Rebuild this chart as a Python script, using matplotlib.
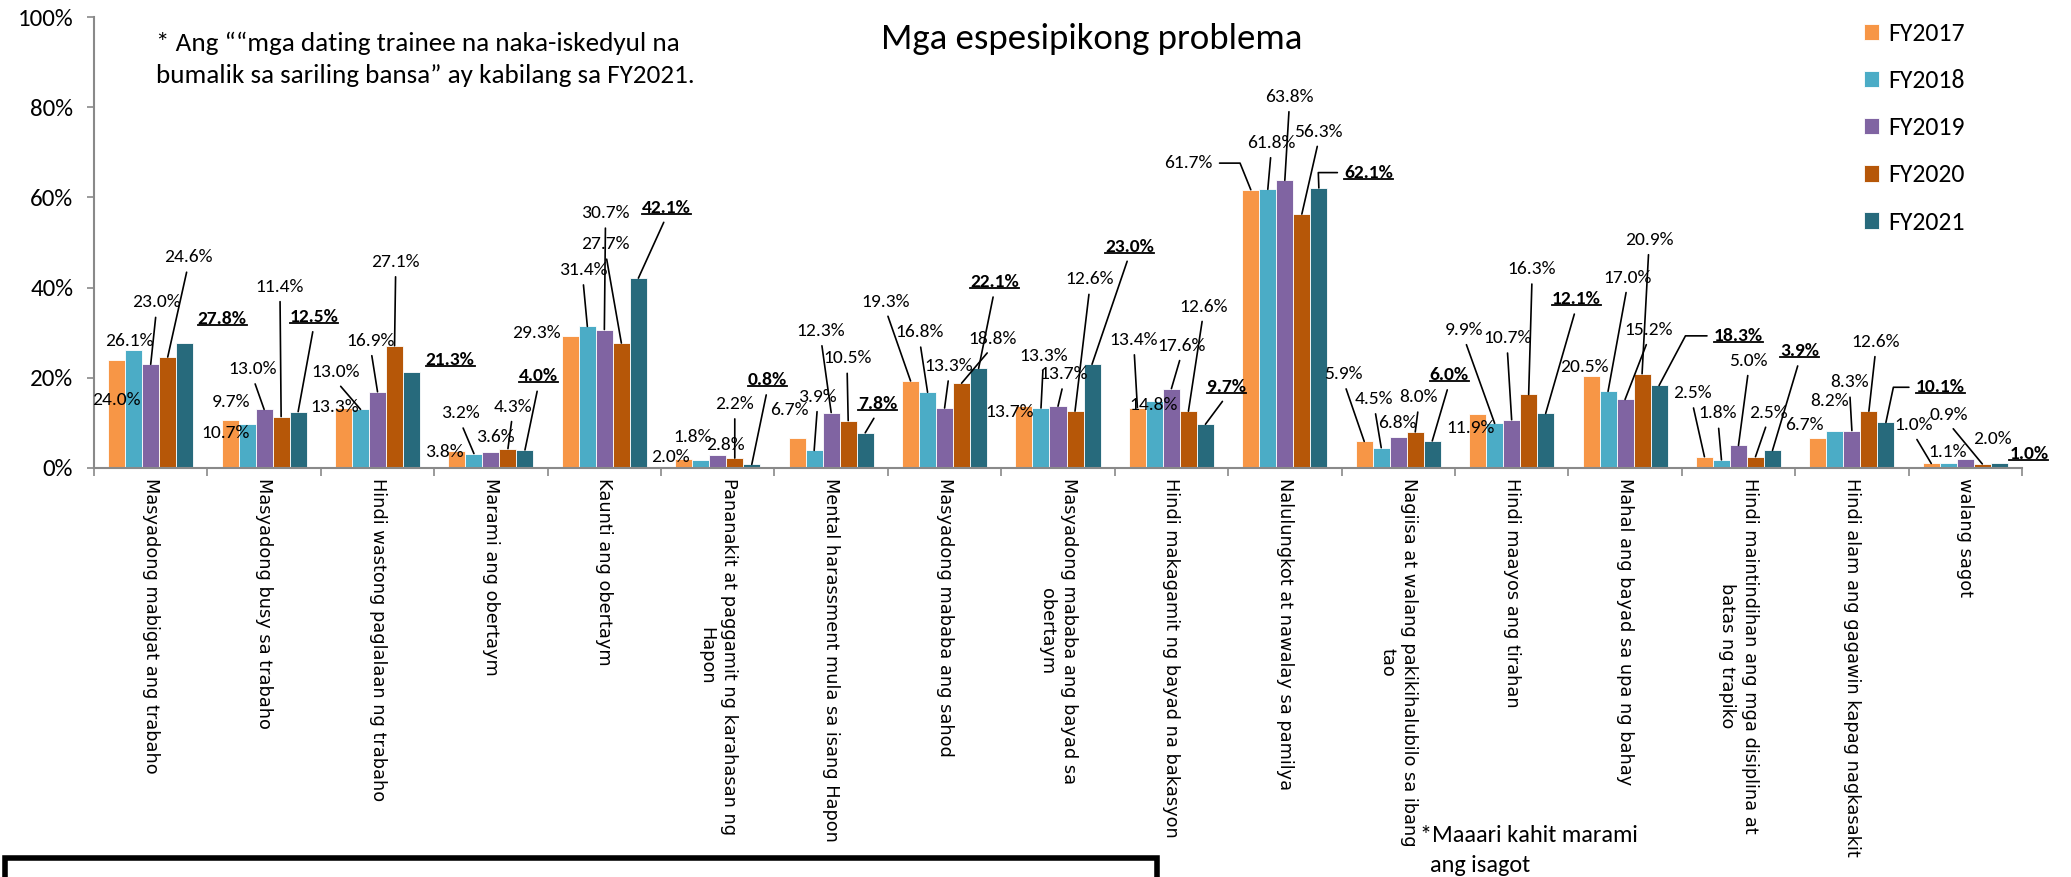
import numpy as np
import matplotlib
matplotlib.use("Agg")
import matplotlib.pyplot as plt
from matplotlib.lines import Line2D
from matplotlib.patches import Rectangle
from matplotlib.text import Text

# Calibri-like text first, plain sans as the fallback
NARROW = ['Carlito', 'Liberation Sans Narrow', 'Liberation Sans']
WIDE = 'DejaVu Sans'

# ---- data ----
categories = [
    "Masyadong mabigat ang trabaho",
    "Masyadong busy sa trabaho",
    "Hindi wastong paglalaan ng trabaho",
    "Marami ang obertaym",
    "Kaunti ang obertaym",
    "Pananakit at paggamit ng karahasan ng\nHapon",
    "Mental harassment mula sa isang Hapon",
    "Masyadong mababa ang sahod",
    "Masyadong mababa ang bayad sa\nobertaym",
    "Hindi makagamit ng bayad na bakasyon",
    "Nalulungkot at nawalay sa pamilya",
    "Nagiisa at walang pakikihalubilo sa ibang\ntao",
    "Hindi maayos ang tirahan",
    "Mahal ang bayad sa upa ng bahay",
    "Hindi maintindihan ang mga disiplina at\nbatas ng trapiko",
    "Hindi alam ang gagawin kapag nagkasakit",
    "walang sagot",
]
years = ["FY2017", "FY2018", "FY2019", "FY2020", "FY2021"]

fy2017 = [24.0, 10.7, 13.3, 3.8, 29.3, 2.0, 6.7, 19.3, 13.7, 13.4, 61.7, 5.9, 11.9, 20.5, 2.5, 6.7, 1.0]
fy2018 = [26.1, 9.7, 13.0, 3.2, 31.4, 1.8, 3.9, 16.8, 13.3, 14.8, 61.8, 4.5, 9.9, 17.0, 1.8, 8.2, 1.1]
fy2019 = [23.0, 13.0, 16.9, 3.6, 30.7, 2.8, 12.3, 13.3, 13.7, 17.6, 63.8, 6.8, 10.7, 15.2, 5.0, 8.3, 2.0]
fy2020 = [24.6, 11.4, 27.1, 4.3, 27.7, 2.2, 10.5, 18.8, 12.6, 12.6, 56.3, 8.0, 16.3, 20.9, 2.5, 12.6, 0.9]
fy2021 = [27.8, 12.5, 21.3, 4.0, 42.1, 0.8, 7.8, 22.1, 23.0, 9.7, 62.1, 6.0, 12.1, 18.3, 3.9, 10.1, 1.0]
series = [fy2017, fy2018, fy2019, fy2020, fy2021]

colors = ['#F79646', '#4BACC6', '#8064A2', '#B65708', '#276A7C']

# label placement (x in category units, y in %) and leader style:
# n = no line, b = line from bottom of text, l/r = elbow line from left/right side
label_pos = [
    [(-0.30, 15.1, 'n'), (-0.19, 28.2, 'n'), (0.05, 36.7, 'b'), (0.33, 46.7, 'b'), (0.63, 33.0, 'n')],
    [(0.66, 7.7, 'n'), (0.71, 14.7, 'n'), (0.90, 21.9, 'b'), (1.14, 40.2, 'b'), (1.44, 33.5, 'b')],
    [(1.62, 13.6, 'n'), (1.63, 21.2, 'b'), (1.94, 28.2, 'b'), (2.16, 45.7, 'b'), (2.64, 23.9, 'n')],
    [(2.59, 3.6, 'n'), (2.73, 12.1, 'b'), (3.04, 6.8, 'n'), (3.19, 13.6, 'b'), (3.42, 20.3, 'b')],
    [(3.40, 29.9, 'n'), (3.81, 43.9, 'b'), (4.01, 56.5, 'b'), (4.01, 49.6, 'b'), (4.55, 57.7, 'b')],
    [(4.58, 2.5, 'n'), (4.78, 6.9, 'n'), (5.07, 5.0, 'n'), (5.15, 14.2, 'b'), (5.44, 19.5, 'b')],
    [(5.63, 12.9, 'n'), (5.88, 15.8, 'b'), (5.91, 30.4, 'b'), (6.14, 24.3, 'b'), (6.41, 14.2, 'b')],
    [(6.48, 36.9, 'b'), (6.78, 30.1, 'b'), (7.04, 22.6, 'b'), (7.42, 28.6, 'b'), (7.44, 41.2, 'b')],
    [(7.57, 12.5, 'n'), (7.87, 24.9, 'b'), (8.05, 20.8, 'b'), (8.28, 41.8, 'b'), (8.63, 49.1, 'b')],
    [(8.67, 28.4, 'b'), (8.84, 14.0, 'n'), (9.09, 27.1, 'b'), (9.28, 35.8, 'b'), (9.49, 17.9, 'b')],
    [(9.15, 67.6, 'r'), (9.88, 72.1, 'b'), (10.04, 82.3, 'b'), (10.30, 74.6, 'b'), (10.74, 65.5, 'l')],
    [(10.52, 20.8, 'b'), (10.79, 15.3, 'b'), (10.99, 9.9, 'n'), (11.18, 15.7, 'b'), (11.45, 20.6, 'b')],
    [(11.64, 8.8, 'n'), (11.58, 30.6, 'b'), (11.96, 28.8, 'b'), (12.18, 44.1, 'b'), (12.57, 37.4, 'b')],
    [(12.64, 22.5, 'n'), (13.02, 42.2, 'b'), (13.21, 30.6, 'b'), (13.21, 50.6, 'b'), (14.00, 29.3, 'l')],
    [(13.59, 16.6, 'b'), (13.82, 12.1, 'b'), (14.09, 23.8, 'b'), (14.26, 12.3, 'b'), (14.54, 25.9, 'b')],
    [(14.58, 9.5, 'n'), (14.80, 14.9, 'n'), (14.98, 19.0, 'b'), (15.21, 28.0, 'b'), (15.78, 17.9, 'l')],
    [(15.54, 9.5, 'b'), (15.84, 3.6, 'n'), (16.24, 6.4, 'n'), (15.85, 11.8, 'b'), (16.56, 3.1, 'n')],
]
# slope of the lower leg for the elbow leaders
elbow_angle = {(10, 0): 112, (10, 4): 92, (13, 4): 62, (15, 4): 78}

W, H = 2071, 877
fig = plt.figure(figsize=(W / 100, H / 100), dpi=100)
ax = fig.add_axes([94 / W, 1 - 468 / H, (2022 - 94) / W, (468 - 17) / H])

x = np.arange(len(categories))
bw = 0.15
for j, vals in enumerate(series):
    ax.bar(x + (j - 2) * bw, vals, width=bw, color=colors[j], edgecolor='white',
           linewidth=0.6, label=years[j], zorder=2)

# data labels
bold_texts = []
for i in range(len(categories)):
    for j, vals in enumerate(series):
        tx, ty, mode = label_pos[i][j]
        v = vals[i]
        bx = x[i] + (j - 2) * bw
        bold = (j == 4)
        kw = dict(ha='center', va='center', fontsize=14, family=NARROW,
                  fontweight='bold' if bold else 'normal', zorder=5)
        if mode == 'n':
            t = ax.text(tx, ty, f"{v:.1f}%", **kw)
        elif mode == 'b':
            t = ax.annotate(f"{v:.1f}%", xy=(bx, v), xytext=(tx, ty),
                            arrowprops=dict(arrowstyle='-', color='black', lw=1.2,
                                            shrinkA=3, shrinkB=0, relpos=(0.5, 0.0)),
                            **kw)
        else:
            rel = (0.0, 0.5) if mode == 'l' else (1.0, 0.5)
            cs = f"angle,angleA=0,angleB={elbow_angle[(i, j)]},rad=0"
            t = ax.annotate(f"{v:.1f}%", xy=(bx, v), xytext=(tx, ty),
                            arrowprops=dict(arrowstyle='-', color='black', lw=1.2,
                                            shrinkA=3, shrinkB=0, relpos=rel,
                                            connectionstyle=cs),
                            **kw)
        if bold:
            bold_texts.append(t)

# axes styling
ax.set_xlim(-0.5, len(categories) - 0.5)
ax.set_ylim(0, 100)
ax.set_yticks(np.arange(0, 101, 20))
ax.set_yticklabels([f"{v}%" for v in range(0, 101, 20)], family=NARROW, fontsize=18)
ax.set_xticks(np.arange(-0.5, len(categories), 1.0))
ax.set_xticklabels([])
ax.set_xticks(x, minor=True)
ax.set_xticklabels(categories, minor=True, rotation=270, ha='center', va='top',
                   family=WIDE, fontsize=12.8, multialignment='center')
for lab in ax.get_xticklabels(minor=True):
    lab.set_linespacing(1.3)
ax.tick_params(axis='x', which='minor', length=0, pad=7)
ax.tick_params(axis='x', which='major', length=6, color='#898989', width=1.2)
ax.tick_params(axis='y', length=5, color='#898989', width=1.2, pad=10)
for s in ['top', 'right']:
    ax.spines[s].set_visible(False)
for s in ['left', 'bottom']:
    ax.spines[s].set_color('#898989')
    ax.spines[s].set_linewidth(1.5)

leg = ax.legend(loc='upper left', bbox_to_anchor=(1864 / W, 1 - 22 / H),
                bbox_transform=fig.transFigure, frameon=False,
                prop={'family': NARROW, 'size': 18.5}, handlelength=0.6,
                handleheight=0.6, handletextpad=0.35, labelspacing=0.94,
                borderpad=0, borderaxespad=0)

# texts
fig.text(1092 / W, 1 - 39 / H, "Mga espesipikong problema", ha='center', va='center',
         fontsize=26.5, family=NARROW)
fig.text(156 / W, 1 - 32 / H,
         "* Ang \u201c\u201cmga dating trainee na naka-iskedyul na\n"
         "bumalik sa sariling bansa\u201d ay kabilang sa FY2021.",
         ha='left', va='top', fontsize=19.5, family=NARROW, linespacing=1.45)
fig.text(1420 / W, 1 - 835 / H, "*Maaari kahit marami", ha='left', va='center',
         fontsize=17.5, family=NARROW)
fig.text(1430 / W, 1 - 865 / H, "ang isagot", ha='left', va='center',
         fontsize=17.5, family=NARROW)

# box at the bottom left
fig.add_artist(Rectangle((5 / W, -0.1), (1157 - 5) / W, 0.1 + (1 - 858 / H),
                         transform=fig.transFigure, fill=False, edgecolor='black',
                         linewidth=4))

# underline the FY2021 labels (text box only, not the leader line)
fig.canvas.draw()
r = fig.canvas.get_renderer()
inv = fig.transFigure.inverted()
for t in bold_texts:
    bb = Text.get_window_extent(t, r)
    (x0, y0), (x1, _) = inv.transform([(bb.x0, bb.y0 + 2), (bb.x1, bb.y0 + 2)])
    fig.add_artist(Line2D([x0, x1], [y0, y0], transform=fig.transFigure,
                          color='black', lw=1.3))

fig.savefig("out.png", dpi=100)
